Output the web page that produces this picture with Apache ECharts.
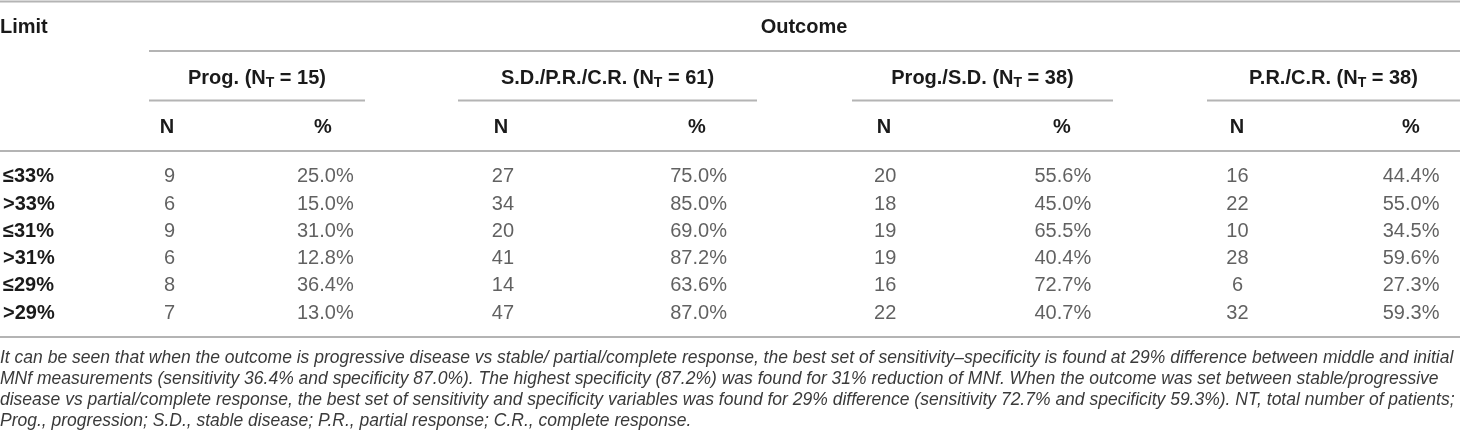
<!DOCTYPE html>
<html>
<head>
<meta charset="utf-8">
<title>Outcome by limit</title>
<script src="https://cdn.jsdelivr.net/npm/echarts@6/dist/echarts.min.js"></script>
<style>
  html, body { margin: 0; padding: 0; background: #fff; }
  #main { width: 1460px; height: 446px; }
</style>
</head>
<body>
<div id="main"></div>
<script>
// table values
const limits = ['≤33%', '>33%', '≤31%', '>31%', '≤29%', '>29%'];
const groups = [
    { name: 'Prog.', total: 15 },
    { name: 'S.D./P.R./C.R.', total: 61 },
    { name: 'Prog./S.D.', total: 38 },
    { name: 'P.R./C.R.', total: 38 }
];
const progN = [9, 6, 9, 6, 8, 7];
const progPct = [25.0, 15.0, 31.0, 12.8, 36.4, 13.0];
const sdN = [27, 34, 20, 41, 14, 47];
const sdPct = [75.0, 85.0, 69.0, 87.2, 63.6, 87.0];
const psdN = [20, 18, 19, 19, 16, 22];
const psdPct = [55.6, 45.0, 65.5, 40.4, 72.7, 40.7];
const prcrN = [16, 22, 10, 28, 6, 32];
const prcrPct = [44.4, 55.0, 34.5, 59.6, 27.3, 59.3];
const footnote = [
    'It can be seen that when the outcome is progressive disease vs stable/ partial/complete response, the best set of sensitivity–specificity is found at 29% difference between middle and initial',
    'MNf measurements (sensitivity 36.4% and specificity 87.0%). The highest specificity (87.2%) was found for 31% reduction of MNf. When the outcome was set between stable/progressive',
    'disease vs partial/complete response, the best set of sensitivity and specificity variables was found for 29% difference (sensitivity 72.7% and specificity 59.3%). NT, total number of patients;',
    'Prog., progression; S.D., stable disease; P.R., partial response; C.R., complete response.'
];

// layout (pixels on the hidden x axis, 0..1460)
const colX = [167, 323, 501, 697, 884, 1062, 1237, 1411];
const groupSpan = [[149, 365], [458, 757], [852, 1113], [1207, 1460]];
const FONT = '"Liberation Sans", Arial, Helvetica, sans-serif';
const LINE = '#b4b4b4';
const TEXT = '#3a3a3a';
const HEAD = '#1a1a1a';

const columns = [
    { vals: progN, pct: false }, { vals: progPct, pct: true },
    { vals: sdN, pct: false }, { vals: sdPct, pct: true },
    { vals: psdN, pct: false }, { vals: psdPct, pct: true },
    { vals: prcrN, pct: false }, { vals: prcrPct, pct: true }
];

const chart = echarts.init(document.getElementById('main'), null, { renderer: 'canvas' });

function hline(x1, x2, y) {
    return {
        type: 'line',
        shape: { x1: x1, y1: y, x2: x2, y2: y },
        style: { stroke: LINE, lineWidth: 2 },
        silent: true
    };
}

function headText(text, x, y, align) {
    return {
        type: 'text',
        x: x, y: y,
        style: {
            text: text, fill: HEAD,
            font: 'bold 20px ' + FONT,
            align: align || 'center', verticalAlign: 'middle'
        },
        silent: true
    };
}

const graphics = [
    hline(0, 1460, 1.5),
    hline(149, 1460, 51),
    hline(0, 1460, 151),
    hline(0, 1460, 337),
    headText('Limit', 0, 27, 'left'),
    headText('Outcome', 804, 27)
];

groups.forEach(function (g, i) {
    const span = groupSpan[i];
    graphics.push(hline(span[0], span[1], 100.5));
    graphics.push({
        type: 'text',
        x: (span[0] + span[1]) / 2, y: 78,
        style: {
            text: '{b|' + g.name + ' (N}{s|T}{b| = ' + g.total + ')}',
            align: 'center', verticalAlign: 'middle',
            rich: {
                b: { fontFamily: FONT, fontWeight: 'bold', fontSize: 20, lineHeight: 24, fill: HEAD, color: HEAD },
                s: { fontFamily: FONT, fontWeight: 'bold', fontSize: 14, lineHeight: 14, verticalAlign: 'bottom', fill: HEAD, color: HEAD }
            }
        },
        silent: true
    });
    graphics.push(headText('N', colX[i * 2], 127));
    graphics.push(headText('%', colX[i * 2 + 1], 127));
});

footnote.forEach(function (line, i) {
    graphics.push({
        type: 'text',
        x: 0, y: 358 + i * 21,
        style: {
            text: line, fill: TEXT,
            font: 'italic 17.5px ' + FONT,
            align: 'left', verticalAlign: 'middle'
        },
        silent: true
    });
});

const series = columns.map(function (col, c) {
    return {
        type: 'scatter',
        symbolSize: 1,
        itemStyle: { color: 'transparent' },
        silent: true,
        label: {
            show: true,
            position: 'inside',
            fontFamily: FONT,
            fontSize: 20,
            color: TEXT,
            formatter: function (p) {
                return col.pct ? p.value[2].toFixed(1) + '%' : String(p.value[2]);
            }
        },
        data: col.vals.map(function (v, r) {
            return [colX[c], limits[r], v];
        })
    };
});

chart.setOption({
    animation: false,
    grid: { left: 0, right: 0, top: 163.3, bottom: 119.3 },
    xAxis: { type: 'value', min: 0, max: 1460, show: false },
    yAxis: {
        type: 'category',
        data: limits,
        inverse: true,
        axisLine: { show: false },
        axisTick: { show: false },
        splitLine: { show: false },
        axisLabel: {
            inside: true,
            margin: 0,
            align: 'left',
            fontFamily: FONT,
            fontWeight: 'bold',
            fontSize: 20,
            color: HEAD
        }
    },
    series: series,
    graphic: graphics
});
</script>
</body>
</html>
